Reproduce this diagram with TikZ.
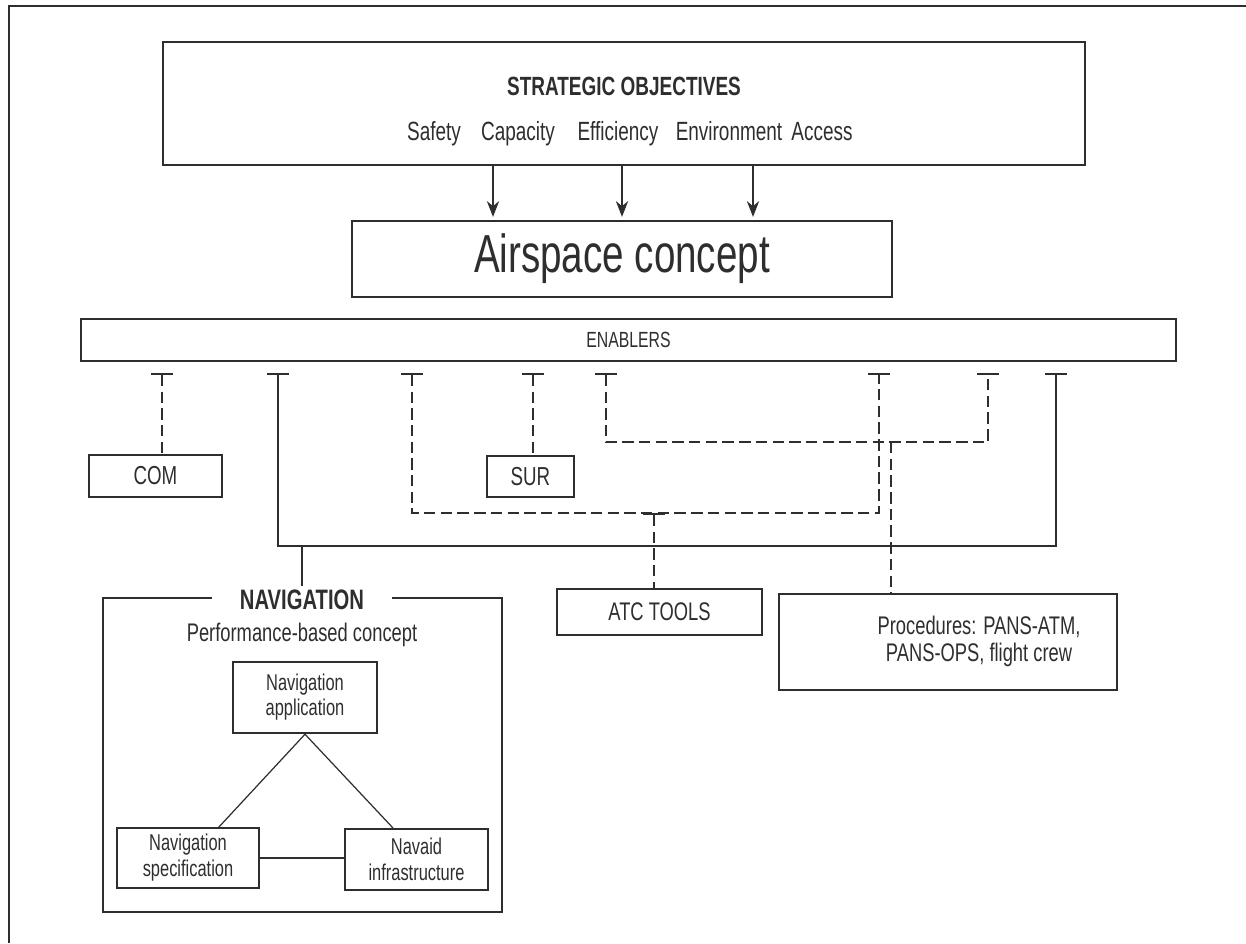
\documentclass[tikz,border=0pt]{standalone}
\usepackage{fontspec}
\setmainfont{Liberation Sans}[FakeStretch=0.72]
\usetikzlibrary{arrows.meta}
\definecolor{ink}{HTML}{2E2E2E}
\newcommand{\fsz}[2]{\fontsize{#1}{#2}\selectfont}
\tikzset{
  thinbox/.style={draw=ink, line width=0.7pt, inner sep=0pt, align=center, text=ink},
  thickbox/.style={draw=ink, line width=1.4pt, inner sep=0pt, align=center, text=ink},
  txt/.style={text=ink, inner sep=1pt},
  item/.style={txt, anchor=base, font=\fsz{15}{17}},
  sline/.style={draw=ink, line width=0.7pt},
  dline/.style={draw=ink, line width=0.7pt, dash pattern=on 6.5pt off 3pt},
  tee/.style={{Bar[width=12.5pt,line width=1.4pt]}-},
  teetee/.style={{Bar[width=12.5pt,line width=1.4pt]}-{Bar[width=12.5pt,line width=1.4pt]}},
  arr/.style={-{Stealth[length=9pt,width=7pt]}, line width=0.7pt, draw=ink, shorten >=2pt},
}
\begin{document}
\begin{tikzpicture}[x=0.02cm,y=-0.02cm]
\useasboundingbox (0,0) rectangle (1246,943);
% frame
\draw[draw=ink, line width=0.9pt] (1246,6) -- (9,6) -- (9,943);
% objectives
\node[thickbox, minimum width=18.44cm, minimum height=2.46cm] (strat) at (624,103.5) {};
\node[txt, font=\fsz{15}{17}\bfseries] (stratlbl) at (624,86) {STRATEGIC OBJECTIVES};
\node[item] (safety) at (434,140) {Safety};
\node[item] (capacity) at (518,140) {Capacity};
\node[item] (efficiency) at (618,140) {Efficiency};
\node[item] (environment) at (729,140) {Environment};
\node[item] (access) at (822,140) {Access};
\node[thinbox, minimum width=10.8cm, minimum height=1.52cm, font=\fsz{30.5}{36}] (airspace) at (622,259) {Airspace concept};
\foreach \x in {493,622,753}
  \draw[arr] (strat.south -| \x,0) -- (airspace.north -| \x,0);
% enablers
\node[thickbox, minimum width=21.9cm, minimum height=0.84cm, font=\fsz{12.5}{15}] (enablers) at (628.5,340) {ENABLERS};
\node[thinbox, minimum width=2.66cm, minimum height=0.84cm, font=\fsz{14.8}{17}] (com) at (155.5,476) {COM};
\node[thinbox, minimum width=1.74cm, minimum height=0.82cm, font=\fsz{14.8}{17}] (sur) at (530.5,476.5) {SUR};
\node[thinbox, minimum width=4.1cm, minimum height=0.92cm, font=\fsz{14.5}{17}] (atc) at (659.5,612) {ATC TOOLS};
\node[thinbox, minimum width=6.76cm, minimum height=1.92cm] (proc) at (948,642) {};
\node[txt, align=center, font=\fsz{14.5}{15.4}] (proctext) at (979,641) {Procedures: PANS-ATM,\\PANS-OPS, flight crew};
% navigation
\node[thickbox, minimum width=7.98cm, minimum height=6.28cm] (navbox) at (302.5,755) {};
\node[txt, fill=white, inner xsep=16pt, inner ysep=2pt, font=\fsz{16}{18}\bfseries] (navlbl) at (302,600) {NAVIGATION};
\node[txt, font=\fsz{14.5}{17}] (pbn) at (302,635) {Performance-based concept};
\node[thickbox, minimum width=2.88cm, minimum height=1.42cm, font=\fsz{13}{14.2}] (app) at (305,697.5) {Navigation\\application};
\node[thinbox, minimum width=2.84cm, minimum height=1.2cm, font=\fsz{13}{14.8}] (spec) at (188,858) {Navigation\\specification};
\node[thinbox, minimum width=2.86cm, minimum height=1.22cm, font=\fsz{13}{14.8}] (navaid) at (416.5,859.5) {Navaid\\infrastructure};
\draw[sline] (app.south) -- (218,828);
\draw[sline] (app.south) -- (393,828);
\draw[sline] (spec.east) -- (spec.east -| navaid.west);
% tee points
\coordinate (tcom) at (162,373);
\coordinate (tnav) at (278,373);
\coordinate (tatc) at (412,373);
\coordinate (tsur) at (533,373);
\coordinate (tproc) at (606,373);
\coordinate (tatcb) at (879,373);
\coordinate (tprocb) at (988,373);
\coordinate (tnavb) at (1056,373);
\coordinate (navjoin) at (302,546);
\coordinate (atcbar) at (654,513);
\coordinate (procjoin) at (891,442);
% links
\draw[dline,tee] (tcom) -- (tcom |- com.north);
\draw[dline,tee] (tsur) -- (tsur |- sur.north);
\draw[sline,teetee] (tnav) |- (navjoin) -| (tnavb);
\draw[sline] (navjoin) -- (navlbl.north);
\draw[dline,teetee] (tatc) |- (atcbar) -| (tatcb);
\draw[dline,tee] (atcbar) -- (atcbar |- atc.north);
\draw[dline,teetee] (tproc) |- (procjoin) -| (tprocb);
\draw[dline] (procjoin) -- (procjoin |- proc.north);
\end{tikzpicture}
\end{document}
